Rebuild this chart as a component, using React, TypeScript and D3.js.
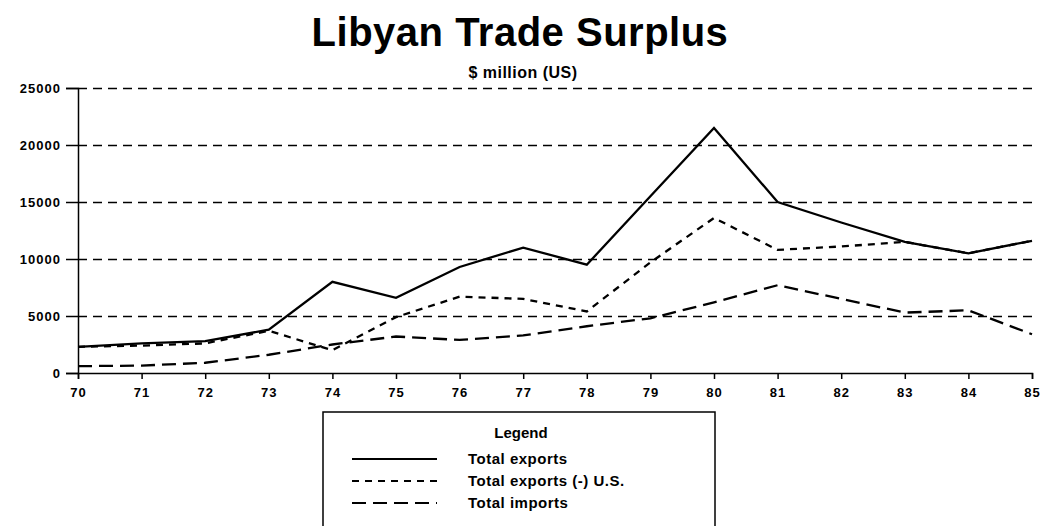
import React, { useEffect, useRef } from "react";
import * as d3 from "d3";

const years = [70, 71, 72, 73, 74, 75, 76, 77, 78, 79, 80, 81, 82, 83, 84, 85];
const totalExports = [2300, 2600, 2800, 3800, 8000, 6600, 9300, 11000, 9500, 15500, 21500, 15000, 13200, 11500, 10500, 11600];
const exportsLessUS = [2300, 2400, 2600, 3700, 2000, 4900, 6700, 6500, 5400, 9700, 13600, 10800, 11100, 11500, 10500, 11600];
const totalImports = [600, 650, 900, 1600, 2500, 3200, 2900, 3300, 4100, 4800, 6200, 7700, 6500, 5300, 5500, 3400];
const yTicks = [0, 5000, 10000, 15000, 20000, 25000];

const seriesNames = ["Total exports", "Total exports (-) U.S.", "Total imports"];
const dashes = ["none", "7,6", "14,7"];

const App = () => {
  const ref = useRef<SVGSVGElement>(null);

  useEffect(() => {
    const svg = d3.select(ref.current);
    svg.selectAll("*").remove();
    const font = "'Liberation Sans', Arial, sans-serif";

    const left = 78, right = 1032, top = 88, bottom = 373;
    const x = d3.scaleLinear().domain([70, 85]).range([left, right]);
    const y = d3.scaleLinear().domain([0, 25000]).range([bottom, top]);

    // title
    svg.append("text")
      .attr("x", 520).attr("y", 46)
      .attr("text-anchor", "middle")
      .style("font-family", font).style("font-weight", "bold").style("font-size", "40px")
      .style("letter-spacing", "0.5px")
      .text("Libyan Trade Surplus");
    svg.append("text")
      .attr("x", 523).attr("y", 78)
      .attr("text-anchor", "middle")
      .style("font-family", font).style("font-weight", "bold").style("font-size", "16px")
      .style("letter-spacing", "0.5px")
      .text("$ million (US)");

    // gridlines
    svg.append("g").selectAll("line")
      .data(yTicks.filter((d) => d > 0))
      .join("line")
      .attr("x1", left).attr("x2", 1036)
      .attr("y1", (d) => Math.round(y(d)) + 0.5).attr("y2", (d) => Math.round(y(d)) + 0.5)
      .attr("stroke", "#000").attr("stroke-width", 1.3)
      .attr("stroke-dasharray", "9,6");

    // y axis
    const yAxis = svg.append("g")
      .attr("transform", `translate(${left},0)`)
      .call(d3.axisLeft(y).tickValues(yTicks).tickSize(12).tickPadding(6).tickFormat((d) => String(d)));
    yAxis.select(".domain").attr("stroke", "#000").attr("stroke-width", 1.5);
    yAxis.selectAll("line").attr("stroke", "#000").attr("stroke-width", 1.5);
    yAxis.selectAll("text")
      .style("font-family", font).style("font-weight", "bold").style("font-size", "13px")
      .style("letter-spacing", "1px")
      .attr("x", -17);

    // x axis
    const xAxis = svg.append("g")
      .attr("transform", `translate(0,${bottom})`)
      .call(d3.axisBottom(x).tickValues(years).tickSize(6).tickPadding(9).tickFormat((d) => String(d)));
    xAxis.select(".domain").attr("stroke", "#000").attr("stroke-width", 1.5);
    xAxis.selectAll("line").attr("stroke", "#000").attr("stroke-width", 1.5);
    xAxis.selectAll("text")
      .style("font-family", font).style("font-weight", "bold").style("font-size", "13px")
      .style("letter-spacing", "1px");

    const line = d3.line<number>()
      .x((_, i) => x(years[i]))
      .y((d) => y(d));

    const all = [totalExports, exportsLessUS, totalImports];
    all.forEach((s, i) => {
      svg.append("path")
        .datum(s)
        .attr("d", line)
        .attr("fill", "none")
        .attr("stroke", "#000")
        .attr("stroke-width", 2.3)
        .attr("stroke-dasharray", dashes[i]);
    });

    // legend
    const lg = svg.append("g");
    lg.append("rect")
      .attr("x", 323).attr("y", 412).attr("width", 392).attr("height", 130)
      .attr("fill", "#fff").attr("stroke", "#000").attr("stroke-width", 1.5);
    lg.append("text")
      .attr("x", 521).attr("y", 438)
      .attr("text-anchor", "middle")
      .style("font-family", font).style("font-weight", "bold").style("font-size", "15px")
      .text("Legend");
    seriesNames.forEach((name, i) => {
      const yy = 459 + i * 22;
      lg.append("line")
        .attr("x1", 352).attr("x2", 437).attr("y1", yy).attr("y2", yy)
        .attr("stroke", "#000").attr("stroke-width", 2)
        .attr("stroke-dasharray", dashes[i]);
      lg.append("text")
        .attr("x", 468).attr("y", yy + 5)
        .style("font-family", font).style("font-weight", "bold").style("font-size", "15px")
        .style("letter-spacing", "0.5px")
        .text(name);
    });
  }, []);

  return (
    <svg ref={ref} width={1043} height={526}
      style={{ position: "absolute", left: 0, top: 0, background: "#fff" }} />
  );
};

export default App;
